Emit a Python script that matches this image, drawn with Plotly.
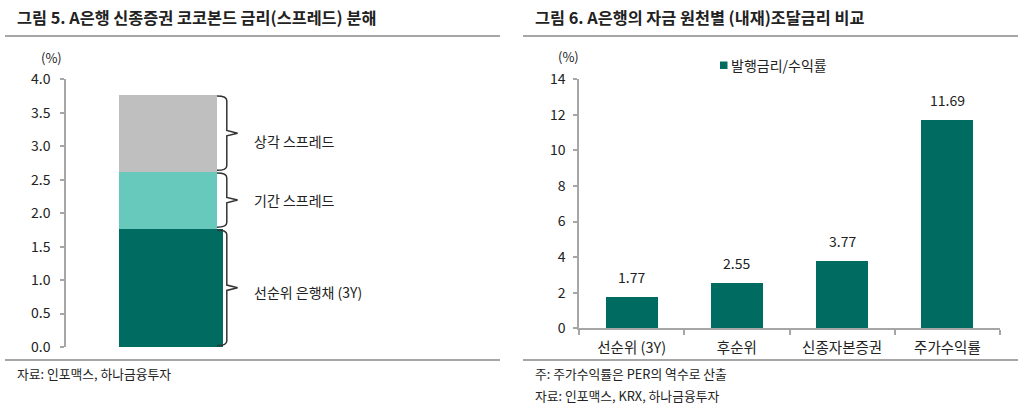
import plotly.graph_objects as go

# ---------------- data ----------------
left_segments = ["선순위 은행채 (3Y)", "기간 스프레드", "상각 스프레드"]
left_values = [1.77, 0.85, 1.15]          # stacked components (%)
left_colors = ["#006B60", "#66C9BC", "#BFBFBF"]
left_ticks = [0.0, 0.5, 1.0, 1.5, 2.0, 2.5, 3.0, 3.5, 4.0]

right_categories = ["선순위 (3Y)", "후순위", "신종자본증권", "주가수익률"]
right_values = [1.77, 2.55, 3.77, 11.69]
right_series_name = "발행금리/수익률"

W, H = 1031, 410
FONT = "Noto Sans CJK KR, Noto Sans, sans-serif"
TXT = "#222222"
GRID = "#A6A6A6"
TEAL = "#006B60"


def px_x(p):
    return p / W


def px_y(p):
    return 1 - p / H


fig = go.Figure()

# ---------------- left chart (stacked bar) ----------------
for i, (name, val, col) in enumerate(zip(left_segments, left_values, left_colors)):
    fig.add_trace(go.Bar(
        x=[0], y=[val], name=name, marker=dict(color=col, line=dict(width=0)),
        width=[1.06 if i == 0 else 1.0], offset=[-0.5],
        xaxis="x", yaxis="y", showlegend=False, hoverinfo="skip",
    ))

# ---------------- right chart ----------------
fig.add_trace(go.Bar(
    x=right_categories, y=right_values, name=right_series_name,
    marker=dict(color=TEAL, line=dict(width=0)),
    xaxis="x2", yaxis="y2", showlegend=False,
))

# value labels above bars
annotations = []
for c, v in zip(right_categories, right_values):
    annotations.append(dict(
        x=c, y=v, xref="x2", yref="y2", text=f"{v:.2f}", showarrow=False,
        yanchor="bottom", yshift=8, font=dict(size=14, color=TXT, family=FONT),
    ))

# braces + labels for left chart
shapes = []
x_l, x_v, x_t = 0.50, 0.60, 0.71
bottoms = []
acc = 0.0
for v in left_values:
    bottoms.append(acc)
    acc += v
label_shift = [-4, 0, -8]
for i, (name, v) in enumerate(zip(left_segments, left_values)):
    y0 = bottoms[i] + 0.02
    y1 = bottoms[i] + v - 0.02
    ym = (y0 + y1) / 2
    r = 0.07
    path = (f"M{x_l},{y1} Q{x_v},{y1} {x_v},{y1 - r} "
            f"L{x_v},{ym + 0.04} L{x_t},{ym} L{x_v},{ym - 0.04} "
            f"L{x_v},{y0 + r} Q{x_v},{y0} {x_l},{y0}")
    shapes.append(dict(type="path", path=path, xref="x", yref="y",
                       line=dict(color="#333333", width=1.5)))
    annotations.append(dict(
        x=0.86, y=bottoms[i] + v / 2, xref="x", yref="y", text=name,
        showarrow=False, xanchor="left", yanchor="middle", yshift=label_shift[i],
        font=dict(size=14, color=TXT, family=FONT),
    ))

# manual legend for the right chart (small square + label)
shapes.append(dict(type="rect", xref="paper", yref="paper",
                   x0=px_x(720), x1=px_x(727.5), y0=px_y(69), y1=px_y(61.5),
                   fillcolor=TEAL, line=dict(width=0)))
annotations.append(dict(
    x=px_x(729), y=px_y(65), xref="paper", yref="paper", text=right_series_name,
    showarrow=False, xanchor="left", yanchor="middle",
    font=dict(size=14, color=TXT, family=FONT),
))

# separator lines (title underlines and footers)
for (xa, xb) in [(5, 500), (523, 1018)]:
    for yy in (36, 360):
        shapes.append(dict(type="line", xref="paper", yref="paper",
                           x0=px_x(xa), x1=px_x(xb), y0=px_y(yy), y1=px_y(yy),
                           line=dict(color=GRID, width=2)))

# titles, units, footnotes
texts = [
    ("그림 5. A은행 신종증권 코코본드 금리(스프레드) 분해", 15, 17, 16.3, True),
    ("그림 6. A은행의 자금 원천별 (내재)조달금리 비교", 533, 17, 16.3, True),
    ("(%)", 39, 57, 13, False),
    ("(%)", 556, 56, 13, False),
    ("자료: 인포맥스, 하나금융투자", 15, 373, 12.8, False),
    ("주: 주가수익률은 PER의 역수로 산출", 533, 373, 12.8, False),
    ("자료: 인포맥스, KRX, 하나금융투자", 533, 395, 12.8, False),
]
for t, xx, yy, sz, bold in texts:
    annotations.append(dict(
        x=px_x(xx), y=px_y(yy), xref="paper", yref="paper",
        text=f"<b>{t}</b>" if bold else t, showarrow=False,
        xanchor="left", yanchor="middle",
        font=dict(size=sz, color=TXT, family=FONT),
    ))

axis_common = dict(showgrid=False, zeroline=False, showline=True,
                   linecolor=GRID, linewidth=1.5, ticks="outside",
                   tickcolor=GRID, tickwidth=1.5, ticklen=4, automargin=False,
                   tickfont=dict(size=14, color=TXT, family=FONT))

fig.update_layout(
    width=W, height=H,
    margin=dict(l=0, r=0, t=0, b=0, autoexpand=False),
    paper_bgcolor="white", plot_bgcolor="white",
    barmode="stack", bargap=0.505,
    showlegend=False,
    font=dict(family=FONT, color=TXT),
    xaxis=dict(domain=[px_x(66), px_x(500)], range=[-1.041, 3.388],
               visible=False, fixedrange=True, automargin=False),
    yaxis=dict(domain=[px_y(347), px_y(79.3)], range=[0, 4],
               tickvals=left_ticks, tickformat=".1f",
               ticklabelstandoff=7, **axis_common),
    xaxis2=dict(domain=[px_x(579), px_x(1000)], anchor="y2",
                type="category", tickson="boundaries",
                showgrid=False, zeroline=False, showline=True,
                linecolor=GRID, linewidth=1.5, ticks="outside",
                tickcolor=GRID, tickwidth=1.5, ticklen=5,
                ticklabelstandoff=6, automargin=False,
                tickfont=dict(size=14.5, color=TXT, family=FONT)),
    yaxis2=dict(domain=[px_y(328.3), px_y(79.3)], range=[0, 14], dtick=2,
                anchor="x2", ticklabelstandoff=5, **axis_common),
    shapes=shapes,
    annotations=annotations,
)

fig.write_html("out.html")
